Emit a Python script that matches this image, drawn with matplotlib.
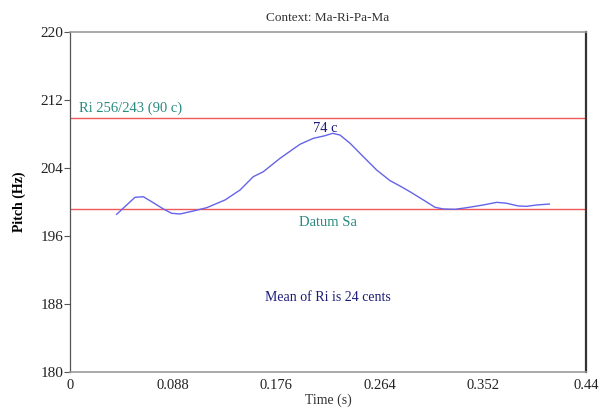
import matplotlib.pyplot as plt

# pitch contour of Ri
time_s = [0.0398, 0.0554, 0.0625, 0.0710, 0.0796, 0.0867, 0.0938, 0.1051,
          0.1166, 0.1322, 0.1450, 0.1563, 0.1648, 0.1791, 0.1961, 0.2075,
          0.2174, 0.2240, 0.2302, 0.2388, 0.2501, 0.2615, 0.2729, 0.2814,
          0.2899, 0.3013, 0.3112, 0.3183, 0.3283, 0.3383, 0.3524, 0.3639,
          0.3724, 0.3823, 0.3894, 0.3980, 0.4087]
pitch_hz = [198.55, 200.55, 200.62, 199.92, 199.18, 198.67, 198.59, 198.94,
            199.33, 200.24, 201.41, 202.98, 203.56, 205.14, 206.79, 207.49,
            207.80, 208.08, 207.88, 206.91, 205.33, 203.76, 202.51, 201.88,
            201.21, 200.24, 199.38, 199.18, 199.14, 199.33, 199.65, 199.96,
            199.85, 199.53, 199.49, 199.65, 199.76]

sa_hz = 199.2
ri_hz = 209.9
x_ticks = [0, 0.088, 0.176, 0.264, 0.352, 0.44]
x_labels = ["0", "0.088", "0.176", "0.264", "0.352", "0.44"]
y_ticks = [180, 188, 196, 204, 212, 220]

plt.rcParams['font.family'] = ['Liberation Serif', 'DejaVu Serif']

fig = plt.figure(figsize=(6.08, 4.08), dpi=100)
ax = fig.add_axes([70 / 608, 1 - 372 / 408, 516 / 608, 340 / 408])

teal = "#2a8a80"
navy = "#1c1c78"
red = "#f05858"

ax.axhline(ri_hz, color=red, lw=1)
ax.axhline(sa_hz, color=red, lw=1)
ax.plot(time_s, pitch_hz, color="#6464ea", lw=1)

ax.set_xlim(0, 0.44)
ax.set_ylim(180, 220)
ax.set_xticks(x_ticks)
ax.set_xticklabels(x_labels)
ax.set_yticks(y_ticks)
ax.tick_params(axis="x", length=0, pad=5, labelsize=10.5, labelcolor="#222222")
ax.tick_params(axis="y", length=4, width=0.8, color="#555555", pad=1,
               labelsize=11, labelcolor="#222222")

for side in ["top", "bottom"]:
    ax.spines[side].set_color("#999999")
    ax.spines[side].set_linewidth(1.2)
ax.spines["left"].set_color("#555555")
ax.spines["left"].set_linewidth(0.9)
ax.spines["right"].set_color("#333333")
ax.spines["right"].set_linewidth(1.6)

ax.set_title("Context: Ma-Ri-Pa-Ma", fontsize=9.5, color="#333333", pad=8)
ax.set_xlabel("Time (s)", fontsize=10, color="#333333", labelpad=1)
ax.set_ylabel("Pitch (Hz)", fontsize=10, fontweight="bold", labelpad=10)

ax.text(0.008, ri_hz + 0.3, "Ri 256/243 (90 c)", color=teal, fontsize=10.5,
        va="bottom", ha="left")
ax.text(0.2175, 207.9, "74 c", color=navy, fontsize=10.5, ha="center",
        va="bottom")
ax.text(0.22, sa_hz - 0.9, "Datum Sa", color=teal, fontsize=10.5,
        ha="center", va="top")
ax.text(0.22, 188.8, "Mean of Ri is 24 cents", color=navy, fontsize=10,
        ha="center", va="center")

fig.savefig("out.png", dpi=100)
